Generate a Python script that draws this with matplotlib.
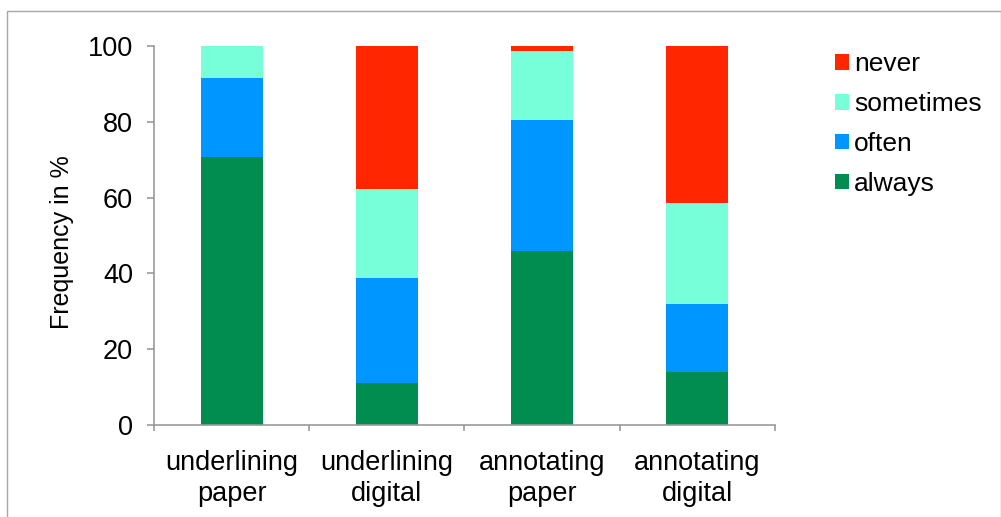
import numpy as np
import matplotlib
matplotlib.use("Agg")
import matplotlib.pyplot as plt
from matplotlib.patches import Rectangle

plt.rcParams['font.family'] = ['Liberation Sans', 'DejaVu Sans']

categories = ["underlining\npaper", "underlining\ndigital", "annotating\npaper", "annotating\ndigital"]
always = [70.7, 11.0, 45.8, 13.9]
often = [20.9, 27.8, 34.8, 18.0]
sometimes = [8.4, 23.6, 18.2, 26.6]
never = [0.0, 37.6, 1.2, 41.5]

series = [("always", always, "#008D4F"),
          ("often", often, "#0096FF"),
          ("sometimes", sometimes, "#76FFD8"),
          ("never", never, "#FF2600")]

fig = plt.figure(figsize=(10.01, 5.17), dpi=100)
ax = fig.add_axes([0.1538, 0.178, 0.6204, 0.733])

# thin frame around the figure (bottom is cut off in the original)
fig.patches.append(Rectangle((7 / 1001, -0.1), (1001 - 7.5) / 1001, 1.1 - 11 / 517,
                             transform=fig.transFigure, fill=False,
                             edgecolor="#a6a6a6", linewidth=1.0))

x = np.arange(len(categories))
bottom = np.zeros(len(categories))
handles = []
for name, vals, color in series:
    h = ax.bar(x, vals, width=0.4, bottom=bottom, color=color, label=name)
    handles.append(h)
    bottom += np.array(vals)

ax.set_xlim(-0.5, 3.5)
ax.set_ylim(0, 100)
ax.set_yticks(np.arange(0, 101, 20))
ax.set_xticks(x)
ax.set_xticklabels(categories, linespacing=1.25)
ax.set_xticks(np.arange(-0.5, 4, 1), minor=True)
ax.tick_params(axis="x", which="major", length=0, pad=18, labelsize=19.5)
ax.tick_params(axis="x", which="minor", length=4.5, width=1.2, color="#999999")
ax.tick_params(axis="y", length=5, width=1.2, color="#999999", labelsize=19.5, pad=10)

for s in ["top", "right"]:
    ax.spines[s].set_visible(False)
for s in ["left", "bottom"]:
    ax.spines[s].set_color("#999999")
    ax.spines[s].set_linewidth(1.2)

ax.set_ylabel("Frequency in %", fontsize=18)
ax.yaxis.set_label_coords(-0.129, 0.482)

leg = ax.legend(handles[::-1], [s[0] for s in series][::-1],
                loc="upper left", bbox_to_anchor=(1.0797, 1.011), frameon=False,
                borderaxespad=0, fontsize=19, handlelength=0.53, handleheight=0.53,
                handletextpad=0.2, labelspacing=0.6)

fig.savefig("out.png", dpi=100)
